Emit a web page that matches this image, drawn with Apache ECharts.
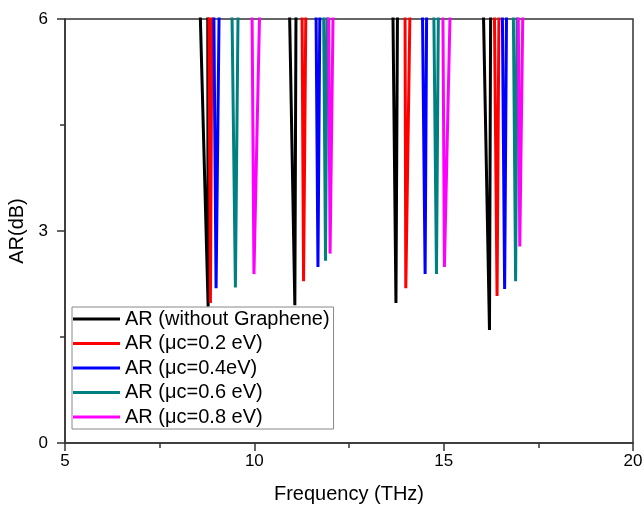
<!DOCTYPE html>
<html>
<head>
<meta charset="utf-8">
<script src="https://cdn.jsdelivr.net/npm/echarts@6/dist/echarts.min.js"></script>
<style>html,body{margin:0;padding:0;background:#fff;}#c{width:644px;height:505px;}</style>
</head>
<body>
<div id="c"></div>
<script>
var seriesNames = ['AR (without Graphene)', 'AR (\u03bcc=0.2 eV)', 'AR (\u03bcc=0.4eV)', 'AR (\u03bcc=0.6 eV)', 'AR (\u03bcc=0.8 eV)'];
var seriesColors = ['#000000', '#ff0000', '#0000ff', '#008080', '#ff00ff'];
var xTicks = [5, 10, 15, 20];
var yTicks = [0, 3, 6];
var TOP = 6.1;
// each dip: [left top freq, min freq, min AR, right top freq]
var dipsBlack   = [[8.57, 8.78, 1.93, 8.77], [10.93, 11.07, 1.95, 11.10], [13.66, 13.74, 1.98, 13.78], [16.05, 16.21, 1.60, 16.24]];
var dipsRed     = [[8.80, 8.84, 1.98, 8.88], [11.26, 11.30, 2.29, 11.36], [13.98, 14.00, 2.19, 14.11], [16.34, 16.41, 2.08, 16.46]];
var dipsBlue    = [[8.93, 8.99, 2.19, 9.07], [11.63, 11.68, 2.49, 11.73], [14.44, 14.51, 2.39, 14.55], [16.55, 16.61, 2.18, 16.66]];
var dipsTeal    = [[9.41, 9.50, 2.20, 9.57], [11.83, 11.88, 2.58, 11.92], [14.74, 14.81, 2.39, 14.86], [16.84, 16.90, 2.29, 16.94]];
var dipsMagenta = [[9.94, 9.99, 2.39, 10.14], [11.96, 12.00, 2.68, 12.08], [14.98, 15.02, 2.49, 15.17], [16.97, 17.01, 2.78, 17.09]];
var allDips = [dipsBlack, dipsRed, dipsBlue, dipsTeal, dipsMagenta];

function toData(dips) {
  var d = [];
  dips.forEach(function (p, i) {
    if (i > 0) d.push([p[0], '-']);
    d.push([p[0], TOP]);
    d.push([p[1], p[2]]);
    d.push([p[3], TOP]);
  });
  return d;
}

var FONT = 'Liberation Sans';
var chart = echarts.init(document.getElementById('c'), null, {renderer: 'canvas'});
chart.setOption({
  animation: false,
  backgroundColor: '#ffffff',
  grid: {left: 65, right: 11, top: 19, bottom: 62, containLabel: false, outerBoundsMode: 'none',
    show: true, borderColor: '#333', borderWidth: 1.5, backgroundColor: 'transparent'},
  legend: {
    orient: 'vertical', left: 72, top: 307,
    data: seriesNames,
    itemWidth: 47, itemHeight: 3, itemGap: 4.5, icon: 'rect', itemTextGap: 5,
    backgroundColor: '#fff', borderColor: '#888', borderWidth: 1,
    padding: [2, 4, 2, 1],
    textStyle: {fontFamily: FONT, fontSize: 20, color: '#000', lineHeight: 20}
  },
  xAxis: {
    type: 'value', min: 5, max: 20, interval: 5,
    name: 'Frequency (THz)', nameLocation: 'middle', nameGap: 41,
    nameTextStyle: {fontFamily: FONT, fontSize: 20, color: '#000'},
    axisLine: {show: true, lineStyle: {color: '#333', width: 1.5}},
    axisTick: {show: true, inside: false, length: 8, lineStyle: {color: '#333', width: 1.5}},
    minorTick: {show: true, splitNumber: 2, length: 5, lineStyle: {color: '#333', width: 1.5}},
    axisLabel: {fontFamily: FONT, fontSize: 17, color: '#000', margin: 10,
      formatter: function (v) { return xTicks.indexOf(v) >= 0 ? String(v) : ''; }},
    splitLine: {show: false}
  },
  yAxis: {
    type: 'value', min: 0, max: 6, interval: 3,
    name: 'AR(dB)', nameLocation: 'middle', nameGap: 31,
    nameTextStyle: {fontFamily: FONT, fontSize: 20, color: '#000'},
    axisLine: {show: true, lineStyle: {color: '#333', width: 1.5}},
    axisTick: {show: true, inside: false, length: 8, lineStyle: {color: '#333', width: 1.5}},
    minorTick: {show: true, splitNumber: 2, length: 5, lineStyle: {color: '#333', width: 1.5}},
    axisLabel: {fontFamily: FONT, fontSize: 17, color: '#000', margin: 17,
      formatter: function (v) { return yTicks.indexOf(v) >= 0 ? String(v) : ''; }},
    splitLine: {show: false}
  },
  series: allDips.map(function (dips, i) {
    return {
      name: seriesNames[i], type: 'line', data: toData(dips),
      showSymbol: false, symbol: 'none', clip: true, connectNulls: false,
      lineStyle: {color: seriesColors[i], width: 3},
      itemStyle: {color: seriesColors[i]}
    };
  })
});
</script>
</body>
</html>
